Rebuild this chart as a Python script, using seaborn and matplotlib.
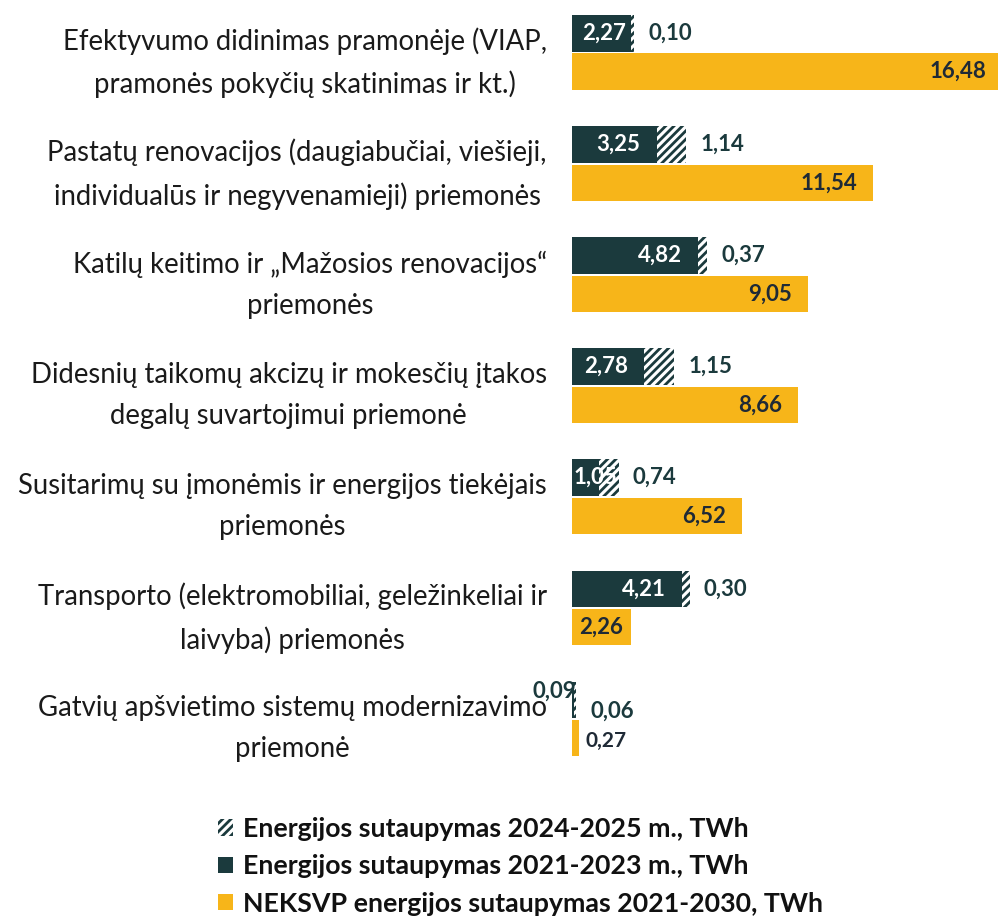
import pandas as pd
import numpy as np
import matplotlib
matplotlib.use('Agg')
import matplotlib.pyplot as plt
import seaborn as sns
from matplotlib.patches import Patch

# Duomenys (TWh)
categories = [
    "Efektyvumo didinimas pramonėje (VIAP,\npramonės pokyčių skatinimas ir kt.)",
    "Pastatų renovacijos (daugiabučiai, viešieji,\nindividualūs ir negyvenamieji) priemonės",
    "Katilų keitimo ir „Mažosios renovacijos“\npriemonės",
    "Didesnių taikomų akcizų ir mokesčių įtakos\ndegalų suvartojimui priemonė",
    "Susitarimų su įmonėmis ir energijos tiekėjais\npriemonės",
    "Transporto (elektromobiliai, geležinkeliai ir\nlaivyba) priemonės",
    "Gatvių apšvietimo sistemų modernizavimo\npriemonė",
]
saved_2021_2023 = [2.27, 3.25, 4.82, 2.78, 1.05, 4.21, 0.09]
saved_2024_2025 = [0.10, 1.14, 0.37, 1.15, 0.74, 0.30, 0.06]
neksvp_2021_2030 = [16.48, 11.54, 9.05, 8.66, 6.52, 2.26, 0.27]

legend_labels = [
    "Energijos sutaupymas 2024-2025 m., TWh",
    "Energijos sutaupymas 2021-2023 m., TWh",
    "NEKSVP energijos sutaupymas 2021-2030, TWh",
]

DARK = "#1b3a3d"
YELLOW = "#f7b519"
TXT = "#1f2a36"

sns.set_style("white")
plt.rcParams['font.family'] = ['Lato', 'DejaVu Sans']
plt.rcParams['hatch.linewidth'] = 2.0

totals = [a + b for a, b in zip(saved_2021_2023, saved_2024_2025)]
n = len(categories)

df_total = pd.DataFrame({
    'cat': categories * 2,
    'series': ['top'] * n + ['bottom'] * n,
    'value': totals + neksvp_2021_2030,
})
df_dark = pd.DataFrame({
    'cat': categories * 2,
    'series': ['top'] * n + ['bottom'] * n,
    'value': saved_2021_2023 + neksvp_2021_2030,
})

fig = plt.figure(figsize=(9.98, 9.18), dpi=100)
ax = fig.add_axes([0.573, 0.1394, 0.427, 0.8606])

# hatched total first, then dark part on top of it
sns.barplot(data=df_total, y='cat', x='value', hue='series', hue_order=['top', 'bottom'],
            palette={'top': 'white', 'bottom': YELLOW}, orient='y', width=0.69, gap=0.05,
            saturation=1, errorbar=None, legend=False, linewidth=0, ax=ax)
for p in ax.containers[0]:
    p.set_hatch('////')
    p.set_edgecolor(DARK)
    p.set_linewidth(0)
sns.barplot(data=df_dark, y='cat', x='value', hue='series', hue_order=['top', 'bottom'],
            palette={'top': DARK, 'bottom': YELLOW}, orient='y', width=0.69, gap=0.05,
            saturation=1, errorbar=None, legend=False, linewidth=0, ax=ax)

ax.set_xlim(0, 16.32)
ax.set_ylim(6.64, -0.473)
sns.despine(ax=ax, left=True, bottom=True)
ax.set_xticks([])
ax.set_xlabel("")
ax.set_ylabel("")
ax.tick_params(axis='y', length=0, pad=18, labelsize=19.8, labelcolor='#1a1a1a')
for t in ax.get_yticklabels():
    t.set_multialignment('center')
    t.set_linespacing(1.7)


def fmt(v):
    return f"{v:.2f}".replace('.', ',')


off = 0.1725
pad = 0.62
for i in range(n):
    yt = i - off
    yb = i + off
    d = saved_2021_2023[i]
    tot = totals[i]
    # dark part label
    if d > 2.5:
        ax.text(d - pad, yt, fmt(d), ha='right', va='center', color='white',
                fontsize=16, fontweight='bold')
    elif d >= 2:
        ax.text(d / 2 + 0.1, yt, fmt(d), ha='center', va='center', color='white',
                fontsize=16, fontweight='bold')
    elif d >= 1:
        ax.text(0.05, yt, fmt(d), ha='left', va='center', color='white',
                fontsize=16, fontweight='bold')
    else:
        ax.text(d + 0.06, yt - 0.08, fmt(d), ha='right', va='center', color=DARK,
                fontsize=16, fontweight='bold', clip_on=False)
    # hatched part label
    h_dy = 0.1 if tot < 1 else 0
    ax.text(tot + 0.55, yt + h_dy, fmt(saved_2024_2025[i]), ha='left', va='center',
            color=DARK, fontsize=16, fontweight='bold')
    # yellow label
    y = neksvp_2021_2030[i]
    if y > 2.5:
        ax.text(y - pad, yb, fmt(y), ha='right', va='center', color=TXT,
                fontsize=16, fontweight='bold', clip_on=False)
    elif y > 1:
        ax.text(y / 2, yb, fmt(y), ha='center', va='center', color=TXT,
                fontsize=16, fontweight='bold')
    else:
        ax.text(y + 0.25, yb + 0.03, fmt(y), ha='left', va='center', color=TXT,
                fontsize=15, fontweight='bold')

handles = [
    Patch(facecolor='white', edgecolor=DARK, hatch='////', linewidth=0),
    Patch(facecolor=DARK, linewidth=0),
    Patch(facecolor=YELLOW, linewidth=0),
]
leg = fig.legend(handles, legend_labels, loc='upper left', bbox_to_anchor=(0.2184, 0.11),
                 frameon=False, handlelength=0.55, handleheight=0.55, handletextpad=0.37,
                 labelspacing=0.5, prop={'family': ['Lato', 'DejaVu Sans'], 'weight': 'bold', 'size': 19.3},
                 borderaxespad=0, borderpad=0)
for t in leg.get_texts():
    t.set_color('#111111')

fig.savefig("out.png", dpi=100)
